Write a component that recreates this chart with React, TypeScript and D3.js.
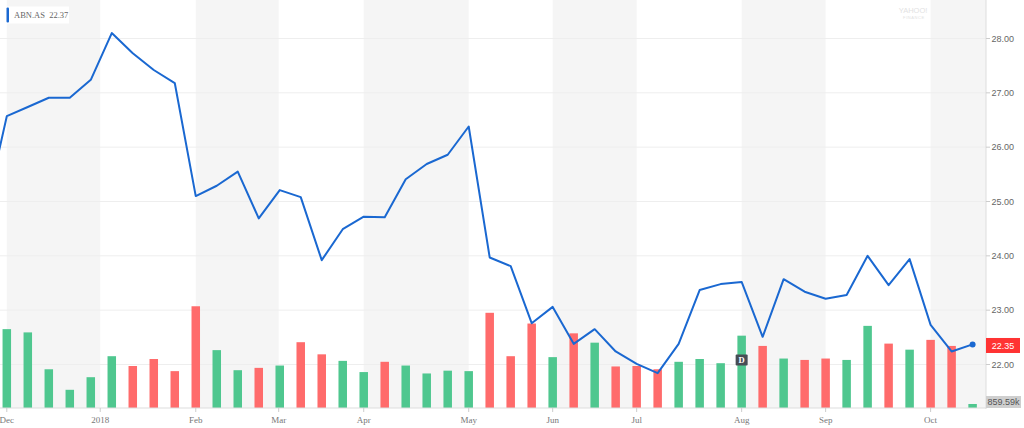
import React from "react";
import * as d3 from "d3";

const symbol = "ABN.AS";
const lastQuote = "22.37";
const lastLabel = "22.35";
const lastVolumeLabel = "859.59k";

// weekly closes (first one is just before the visible range)
const prevClose = 24.85;
const closes = [
  26.57, 26.74, 26.91, 26.91, 27.24, 28.1, 27.73, 27.42, 27.18, 25.1,
  25.29, 25.55, 24.69, 25.21, 25.08, 23.92, 24.49, 24.72, 24.71, 25.41,
  25.69, 25.86, 26.38, 23.97, 23.81, 22.76, 23.06, 22.38, 22.65, 22.24,
  22.01, 21.84, 22.38, 23.37, 23.48, 23.52, 22.51, 23.57, 23.34, 23.21,
  23.28, 24.0, 23.46, 23.94, 22.73, 22.24, 22.37,
];

// weekly volume, millions
const volumes = [
  16.9, 16.2, 8.3, 3.9, 6.6, 11.1, 9.0, 10.5, 7.9, 21.8,
  12.4, 8.1, 8.6, 9.1, 14.1, 11.5, 10.1, 7.7, 9.9, 9.1,
  7.4, 8.0, 7.9, 20.4, 11.1, 18.1, 10.9, 16.0, 14.0, 8.9,
  9.0, 8.3, 9.9, 10.5, 9.6, 15.5, 13.3, 10.6, 10.3, 10.6,
  10.3, 17.6, 13.8, 12.5, 14.6, 13.3, 0.86,
];

// month ticks (position in weekly index)
const tickLabels = ["Dec", "2018", "Feb", "Mar", "Apr", "May", "Jun", "Jul", "Aug", "Sep", "Oct"];
const tickIndex = [0, 4.45, 9, 12.95, 17, 22, 26, 30, 35, 39, 44];

const priceTicks = [22, 23, 24, 25, 26, 27, 28];
const dividendIndex = 35;

const W = 1024;
const H = 428;
const plotRight = 986;
const axisY = 408;

const GREEN = "#4fc78f";
const RED = "#ff6b6b";
const BLUE = "#1a68d1";

export default function App() {
  const n = closes.length;
  const x = d3.scaleLinear().domain([0, n - 1]).range([6.8, 972.6]);
  const y = d3.scaleLinear().domain([22, 28]).range([364.5, 38.5]);
  const yVol = d3.scaleLinear().domain([0, 24]).range([axisY, 296]);

  const pts: [number, number][] = [[-1, prevClose], ...closes.map((c, i) => [i, c] as [number, number])];
  const line = d3.line<[number, number]>().x((d) => x(d[0])).y((d) => y(d[1]));

  // alternate month bands
  const bandEdges = [...tickIndex.map((t) => x(t)), plotRight];
  const bands: { x0: number; x1: number }[] = [];
  for (let i = 0; i < tickIndex.length; i += 2) {
    bands.push({ x0: bandEdges[i], x1: bandEdges[i + 1] });
  }

  const barW = 8.5;
  const lastY = y(closes[n - 1]);
  const labelY = y(+lastLabel);
  const volBoxY = Math.min(yVol(volumes[n - 1]) - 6, axisY - 12);

  return (
    <svg
      width={W}
      height={H}
      style={{ position: "absolute", left: 0, top: 0, background: "#fff" }}
    >
      <defs>
        <clipPath id="plotclip">
          <rect x={0} y={0} width={plotRight} height={axisY} />
        </clipPath>
      </defs>
      {bands.map((b, i) => (
        <rect key={i} x={b.x0} y={0} width={b.x1 - b.x0} height={axisY} fill="#f5f5f5" />
      ))}
      {priceTicks.map((p) => (
        <line key={p} x1={0} x2={plotRight} y1={y(p)} y2={y(p)} stroke="#eeeeee" strokeWidth={1} />
      ))}
      {/* watermark */}
      <text x={913} y={13} textAnchor="middle" fontFamily="Liberation Sans, Arial" fontSize={7.5} fill="#e2e2e2">
        YAHOO!
      </text>
      <text x={914} y={18.5} textAnchor="middle" fontFamily="Liberation Sans, Arial" fontSize={4} fill="#e2e2e2" letterSpacing={0.6}>
        FINANCE
      </text>
      {/* volume bars */}
      {volumes.map((v, i) => {
        const prev = i === 0 ? prevClose : closes[i - 1];
        const up = closes[i] >= prev;
        return (
          <rect
            key={i}
            x={x(i) - barW / 2}
            y={yVol(v)}
            width={barW}
            height={axisY - yVol(v)}
            fill={up ? GREEN : RED}
          />
        );
      })}
      {/* dividend marker */}
      <rect x={x(dividendIndex) - 6} y={354.5} width={12} height={11} rx={1} fill="#474d54" />
      <text
        x={x(dividendIndex)}
        y={363}
        textAnchor="middle"
        fontFamily="Liberation Serif, Times New Roman, serif"
        fontWeight="bold"
        fontSize={8.5}
        fill="#fff"
      >
        D
      </text>
      {/* price line */}
      <g clipPath="url(#plotclip)">
        <path d={line(pts) || ""} fill="none" stroke={BLUE} strokeWidth={2} strokeLinejoin="round" />
      </g>
      <circle cx={x(n - 1)} cy={lastY} r={3} fill={BLUE} />
      {/* bottom axis */}
      <line x1={0} x2={plotRight} y1={axisY} y2={axisY} stroke="#dddddd" />
      {tickIndex.map((t, i) => (
        <g key={i}>
          <line x1={x(t)} x2={x(t)} y1={axisY} y2={axisY + 4} stroke="#cccccc" />
          <text
            x={x(t)}
            y={422.5}
            textAnchor="middle"
            fontFamily="Liberation Serif, Times New Roman, serif"
            fontSize={9}
            fill="#777"
          >
            {tickLabels[i]}
          </text>
        </g>
      ))}
      {/* right axis */}
      <line x1={plotRight} x2={plotRight} y1={0} y2={axisY + 1} stroke="#dddddd" />
      {priceTicks.map((p) => (
        <g key={p}>
          <line x1={plotRight} x2={plotRight + 4} y1={y(p)} y2={y(p)} stroke="#cccccc" />
          <text
            x={991.5}
            y={y(p)}
            dy="0.34em"
            fontFamily="Liberation Sans, Arial, sans-serif"
            fontSize={9}
            fill="#666"
          >
            {p.toFixed(2)}
          </text>
        </g>
      ))}
      {/* last price label */}
      <rect x={986} y={labelY - 7.5} width={34} height={15} fill="#ff3333" />
      <text
        x={1003}
        y={labelY}
        dy="0.34em"
        textAnchor="middle"
        fontFamily="Liberation Sans, Arial, sans-serif"
        fontSize={9}
        fill="#fff"
      >
        {lastLabel}
      </text>
      {/* last volume label */}
      <rect x={986} y={volBoxY} width={35} height={12} fill="#cfcfcf" />
      <text
        x={1003.5}
        y={volBoxY + 6}
        dy="0.34em"
        textAnchor="middle"
        fontFamily="Liberation Sans, Arial, sans-serif"
        fontSize={9}
        fill="#555"
      >
        {lastVolumeLabel}
      </text>
      {/* legend */}
      <rect x={5} y={6.5} width={64} height={17} fill="#ffffff" />
      <rect x={6.5} y={7.5} width={2.5} height={15} rx={1} fill={BLUE} />
      <text
        x={14}
        y={18}
        fontFamily="Liberation Serif, Times New Roman, serif"
        fontSize={8.5}
        fill="#666"
        xmlSpace="preserve"
      >
        {`${symbol}  ${lastQuote}`}
      </text>
    </svg>
  );
}
